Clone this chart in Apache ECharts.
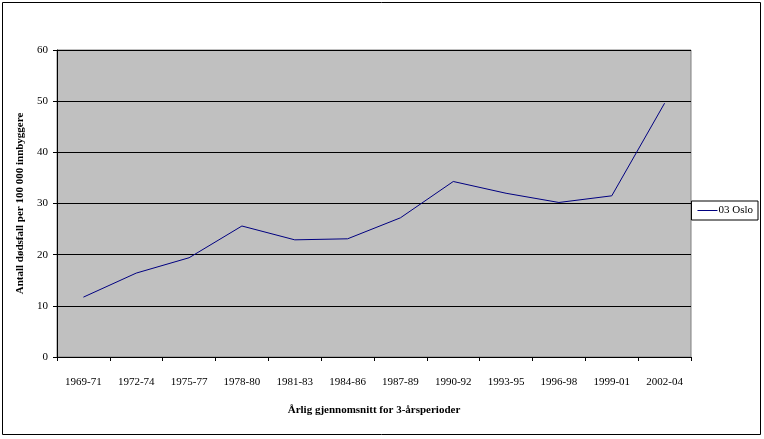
<!DOCTYPE html>
<html><head><meta charset="utf-8">
<script src="https://cdn.jsdelivr.net/npm/echarts@6/dist/echarts.min.js"></script>
<style>html,body{margin:0;padding:0;background:#fff}#c{width:764px;height:439px}</style>
</head><body><div id="c"></div>
<script>
const categories = ['1969-71','1972-74','1975-77','1978-80','1981-83','1984-86','1987-89','1990-92','1993-95','1996-98','1999-01','2002-04'];
const osloValues = [11.7, 16.4, 19.4, 25.6, 22.9, 23.1, 27.2, 34.3, 32.0, 30.2, 31.5, 49.6];
const seriesName = '03 Oslo';
const xTitle = 'Årlig gjennomsnitt for 3-årsperioder';
const yTitle = 'Antall dødsfall per 100 000 innbyggere';

const font = '"Liberation Serif", "Times New Roman", serif';
const chart = echarts.init(document.getElementById('c'), null, {renderer: 'canvas'});
chart.setOption({
  animation: false,
  backgroundColor: '#fff',
  textStyle: {fontFamily: font},
  graphic: [
    {type: 'rect', shape: {x: 2.5, y: 2.5, width: 758, height: 432}, style: {fill: 'none', stroke: '#000', lineWidth: 1}, z: -10}
  ],
  grid: {left: 57, top: 50, width: 634, height: 307, show: true, backgroundColor: '#c0c0c0', borderColor: '#808080', borderWidth: 1},
  legend: {
    right: 6, top: 201, orient: 'vertical', padding: [4, 5, 4, 6],
    borderColor: '#000', borderWidth: 1, backgroundColor: '#fff',
    itemWidth: 20, itemHeight: 1, itemGap: 0,
    icon: 'rect',
    textStyle: {fontFamily: font, fontSize: 11, color: '#000', padding: [0, 0, 0, -4]},
    data: [{name: seriesName, icon: 'rect'}]
  },
  xAxis: {
    type: 'category', data: categories, boundaryGap: true,
    name: xTitle, nameLocation: 'middle', nameGap: 48,
    nameTextStyle: {fontFamily: font, fontSize: 11, fontWeight: 'bold', color: '#000'},
    axisLine: {lineStyle: {color: '#000', width: 1}},
    axisTick: {show: true, length: 4, lineStyle: {color: '#000'}},
    axisLabel: {fontFamily: font, fontSize: 11, color: '#000', margin: 20, interval: 0},
    splitLine: {show: false}
  },
  yAxis: {
    type: 'value', min: 0, max: 60, interval: 10,
    name: yTitle, nameLocation: 'middle', nameGap: 30,
    nameTextStyle: {fontFamily: font, fontSize: 11, fontWeight: 'bold', color: '#000'},
    axisLine: {show: true, lineStyle: {color: '#000', width: 1}},
    axisTick: {show: true, length: 4, lineStyle: {color: '#000'}},
    axisLabel: {fontFamily: font, fontSize: 11, color: '#000', margin: 9},
    splitLine: {show: true, lineStyle: {color: '#000', width: 1}}
  },
  series: [{
    name: seriesName, type: 'line', data: osloValues,
    symbol: 'none', lineStyle: {color: '#000080', width: 1}, itemStyle: {color: '#000080'}
  }]
});
</script></body></html>
